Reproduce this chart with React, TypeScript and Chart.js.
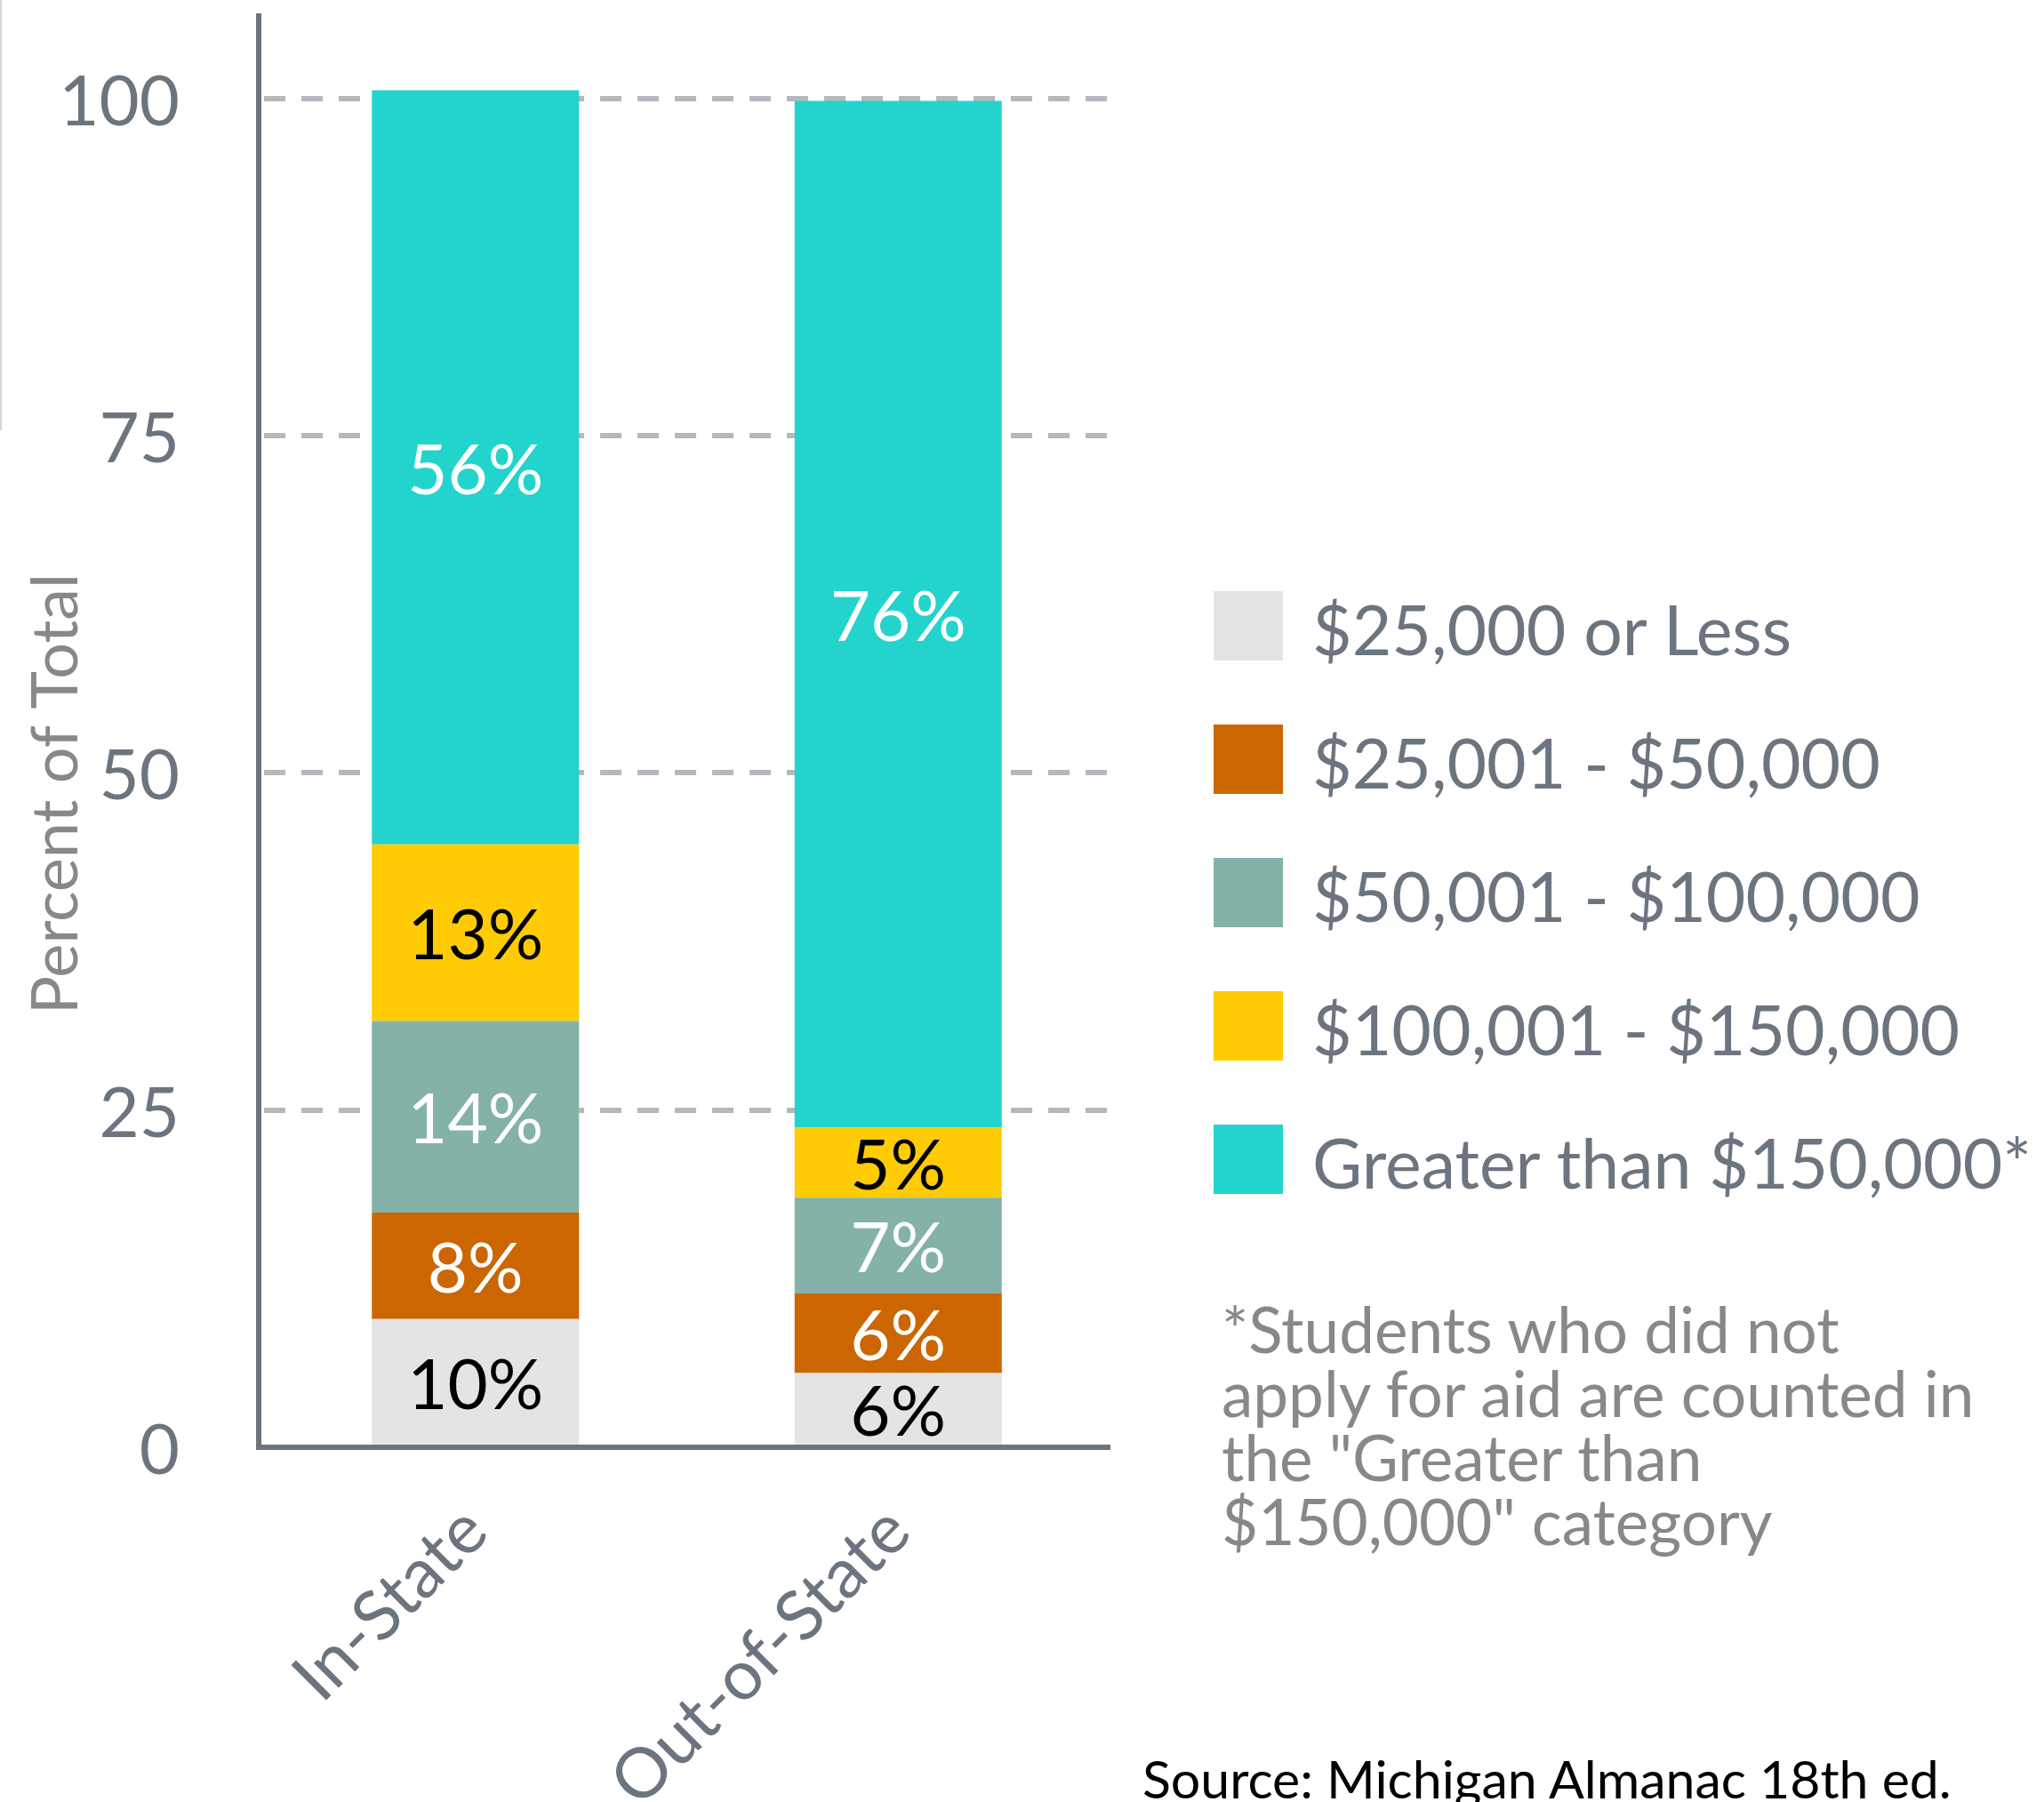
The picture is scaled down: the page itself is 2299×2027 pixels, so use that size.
import React, { useEffect, useRef } from 'react';
import { Chart, registerables } from 'chart.js';

Chart.register(...registerables);

// ---- data ----
const categories = ['In-State', 'Out-of-State'];
const seriesNames = [
  '$25,000 or Less',
  '$25,001 - $50,000',
  '$50,001 - $100,000',
  '$100,001 - $150,000',
  'Greater than $150,000*',
];
const under25k = [9.5, 5.5];
const from25kTo50k = [7.9, 5.9];
const from50kTo100k = [14.2, 7.1];
const from100kTo150k = [13.1, 5.2];
const over150k = [55.9, 76.1];
const yTickValues = [0, 25, 50, 75, 100];
const yTitle = 'Percent of Total';
const footnoteLines = [
  '*Students who did not',
  'apply for aid are counted in',
  'the "Greater than',
  '$150,000" category',
];
const sourceText = 'Source: Michigan Almanac 18th ed.';

// ---- styles ----
const seriesColors = ['#e4e4e4', '#cc6600', '#84b2a9', '#fecb05', '#22d4cc'];
const labelColors = ['#000000', '#ffffff', '#ffffff', '#000000', '#ffffff'];
const AXIS = '#6c757f';
const GRID = '#b5b8bc';
const TEXT_GRAY = '#6c757f';
const TITLE_GRAY = '#888888';
const FONT = 'Lato';

// category band of the x axis (slightly inset from the y-axis line, as in the original)
const xBand = {
  id: 'xBand',
  afterLayout(chart: any) {
    const x = chart.scales.x;
    x.left = 297;
    x.right = 1248;
    x.width = x.right - x.left;
    x.configure();
  },
};

const segmentLabels = {
  id: 'segmentLabels',
  afterDatasetsDraw(chart: any) {
    const ctx = chart.ctx;
    ctx.save();
    ctx.font = `78px ${FONT}`;
    ctx.textAlign = 'center';
    ctx.textBaseline = 'middle';
    chart.data.datasets.forEach((ds: any, di: number) => {
      const meta = chart.getDatasetMeta(di);
      meta.data.forEach((el: any, i: number) => {
        const v = ds.data[i];
        ctx.fillStyle = labelColors[di];
        ctx.fillText(Math.round(v) + '%', el.x, (el.y + el.base) / 2 + 5);
      });
    });
    ctx.restore();
  },
};

const yAxisTitle = {
  id: 'yAxisTitle',
  afterDraw(chart: any) {
    const ctx = chart.ctx;
    ctx.save();
    ctx.font = `72px ${FONT}`;
    ctx.fillStyle = TITLE_GRAY;
    ctx.textAlign = 'center';
    ctx.textBaseline = 'alphabetic';
    ctx.translate(87, 893);
    ctx.rotate(-Math.PI / 2);
    ctx.fillText(yTitle, 0, 0);
    ctx.restore();
  },
};

export default function App() {
  const ref = useRef<HTMLCanvasElement>(null);

  useEffect(() => {
    const seriesData = [under25k, from25kTo50k, from50kTo100k, from100kTo150k, over150k];
    const chart = new Chart(ref.current as HTMLCanvasElement, {
      type: 'bar',
      data: {
        labels: categories,
        datasets: seriesData.map((d, i) => ({
          label: seriesNames[i],
          data: d,
          backgroundColor: seriesColors[i],
          borderWidth: 0,
          barPercentage: 0.49,
          categoryPercentage: 1,
        })),
      },
      options: {
        responsive: false,
        animation: false,
        devicePixelRatio: 1,
        layout: { padding: { top: 18, right: 1049, bottom: 0, left: 0 } },
        plugins: {
          legend: { display: false },
          tooltip: { enabled: false },
          title: { display: false },
        },
        scales: {
          x: {
            stacked: true,
            grid: { display: false, drawTicks: false },
            border: { display: true, color: AXIS, width: 6, z: 1 },
            ticks: {
              color: TEXT_GRAY,
              font: { family: FONT, size: 78 },
              minRotation: 45,
              maxRotation: 45,
              autoSkip: false,
              padding: 48,
            },
            afterFit(s: any) {
              s.height = 399;
              s.paddingLeft = 0;
              s.paddingRight = 0;
            },
          },
          y: {
            stacked: true,
            min: 0,
            max: 106.1,
            afterBuildTicks(s: any) {
              s.ticks = yTickValues.map((v) => ({ value: v }));
            },
            grid: { color: GRID, lineWidth: 6, drawTicks: false },
            border: { display: true, color: AXIS, width: 6, dash: [24, 18], dashOffset: -3, z: 1 },
            ticks: {
              color: TEXT_GRAY,
              font: { family: FONT, size: 78 },
              padding: 89,
              labelOffset: 5,
            },
            afterFit(s: any) {
              s.width = 291;
              s.paddingTop = 0;
              s.paddingBottom = 0;
            },
          },
        },
      },
      plugins: [xBand, segmentLabels, yAxisTitle],
    });
    return () => chart.destroy();
  }, []);

  return (
    <div
      style={{
        position: 'absolute',
        left: 0,
        top: 0,
        width: 2299,
        height: 2027,
        overflow: 'hidden',
        background: '#ffffff',
        fontFamily: FONT,
      }}
    >
      <div style={{ position: 'absolute', left: 0, top: 0, width: 2, height: 484, background: '#d6d6d6' }} />
      <canvas
        ref={ref}
        width={2299}
        height={2027}
        style={{ position: 'absolute', left: 0, top: 0, width: 2299, height: 2027 }}
      />
      {seriesNames.map((name, i) => (
        <React.Fragment key={name}>
          <div
            style={{
              position: 'absolute',
              left: 1365,
              top: 665 + 150 * i,
              width: 78,
              height: 78,
              background: seriesColors[i],
            }}
          />
          <div
            style={{
              position: 'absolute',
              left: 1476,
              top: 669 + 150 * i,
              fontSize: 77,
              lineHeight: '77px',
              color: TEXT_GRAY,
              whiteSpace: 'nowrap',
            }}
          >
            {name}
          </div>
        </React.Fragment>
      ))}
      <div
        style={{
          position: 'absolute',
          left: 1374,
          top: 1459,
          fontSize: 71,
          lineHeight: '72px',
          color: TITLE_GRAY,
          whiteSpace: 'nowrap',
        }}
      >
        {footnoteLines.map((l) => (
          <div key={l}>{l}</div>
        ))}
      </div>
      <div
        style={{
          position: 'absolute',
          left: 1285,
          top: 1971,
          fontSize: 59,
          lineHeight: '59px',
          color: '#000000',
          whiteSpace: 'nowrap',
        }}
      >
        {sourceText}
      </div>
    </div>
  );
}
